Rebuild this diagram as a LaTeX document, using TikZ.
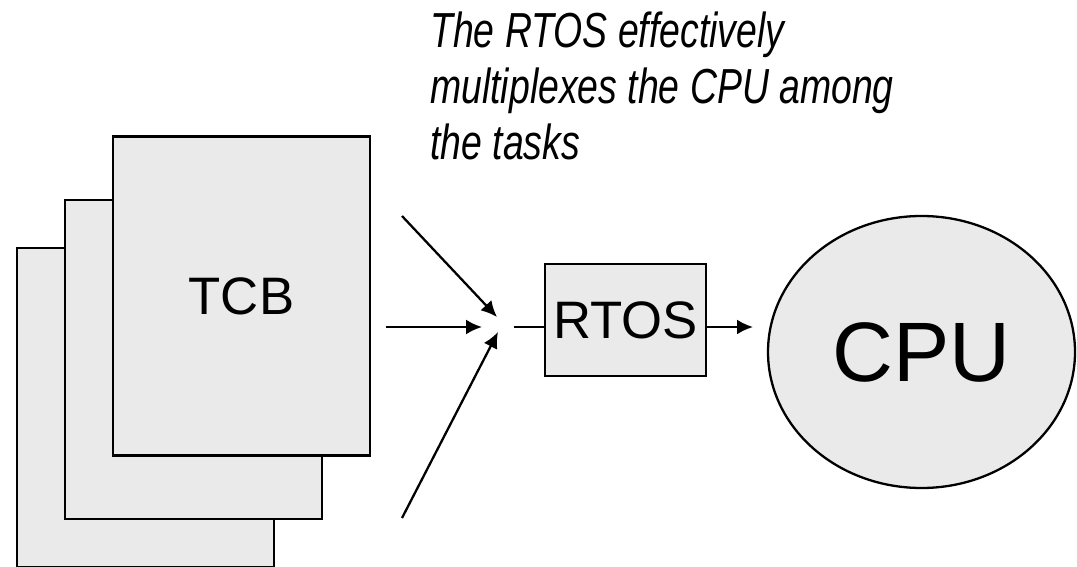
\documentclass[tikz,border=0pt]{standalone}
\usepackage{fontspec}
\setmainfont{Liberation Sans}
\newfontfamily\schmal{Liberation Sans}[FakeStretch=0.76]
\usepackage{xcolor}
\usetikzlibrary{arrows.meta}
\usetikzlibrary{shapes.geometric}
\definecolor{grau}{HTML}{EAEAEA}
\tikzset{
  Blatt/.style={draw,line width=1.3pt,fill=grau,inner sep=0pt,
    minimum width=51.4mm,minimum height=63.8mm}, % TCB-Blaetter
  Kasten/.style={draw,line width=1.3pt,fill=grau,inner sep=0pt}, % RTOS, CPU
  Pfeil/.style={line width=1.3pt,-{Latex[length=3.2mm,width=3mm]}} % Pfeile
}

\begin{document}
\begin{tikzpicture}[x=0.2mm,y=-0.2mm,
font=\fontsize{30}{36}\selectfont
]
\useasboundingbox (0,0) rectangle (1077,567);

%Blaetter
\node[Blatt] (TCB3) at (145.5,407.5) {};
\node[Blatt] (TCB2) at (193.5,359.5) {};
\node[Blatt] (TCB1) at (241.5,296) {TCB};

%RTOS und CPU
\node[Kasten,minimum width=32.2mm,minimum height=22.4mm] (RTOS) at (625.5,320) {RTOS};
\node[Kasten,ellipse,minimum width=61.4mm,minimum height=54.4mm,
  font=\fontsize{48}{56}\selectfont] (CPU) at (921.5,352) {CPU};

%Text
\node[anchor=base west,align=left,inner sep=0pt,
  font=\schmal\fontsize{28}{32}\selectfont\itshape] (Text) at (430,160)
  {The RTOS effectively\\multiplexes the CPU among\\the tasks};

%Hilfspunkte
\coordinate (oben) at (402,216);
\coordinate (mitte) at (386,327);
\coordinate (unten) at (402,518);
\coordinate (Z1) at (497,317);
\coordinate (Z2) at (482,327);
\coordinate (Z3) at (498,332);
\coordinate (ein) at (514,327);
\coordinate (aus) at (753,327);

%Pfeile
\draw[Pfeil] (oben) -- (Z1);
\draw[Pfeil] (mitte) -- (Z2);
\draw[Pfeil] (unten) -- (Z3);
\draw[line width=1.3pt] (ein) -- (ein -| RTOS.west);
\draw[Pfeil] (ein -| RTOS.east) -- (aus);

\end{tikzpicture}
\end{document}
